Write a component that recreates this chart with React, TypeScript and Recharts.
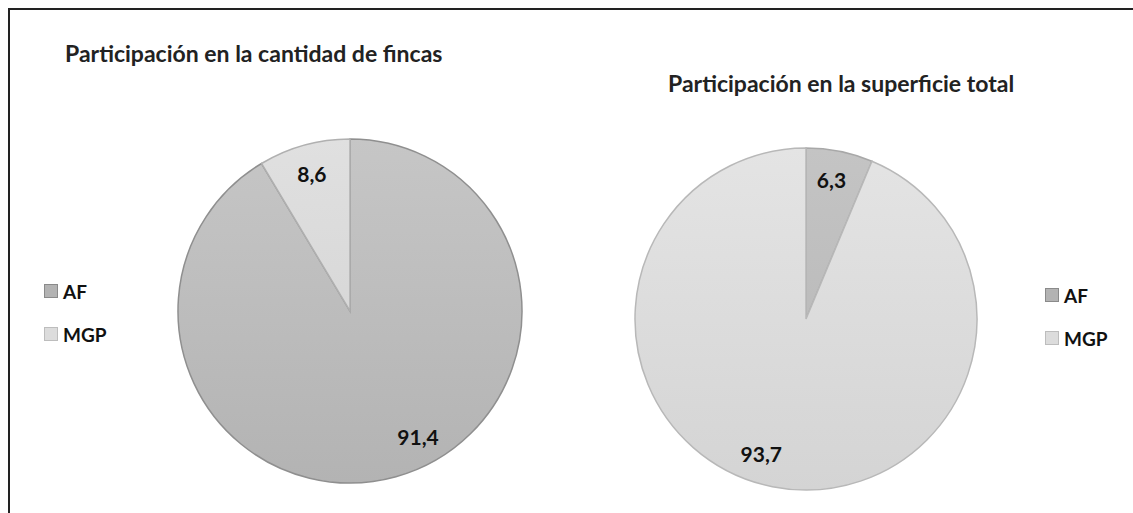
import React from "react";
import { Cell, Legend, Pie, PieChart } from "recharts";

const categories = ["AF", "MGP"];
const fincasValues = [91.4, 8.6];
const superficieValues = [6.3, 93.7];
const titles = [
  "Participación en la cantidad de fincas",
  "Participación en la superficie total",
];

const FONT = "Lato, 'Open Sans', Arial, sans-serif";
const RAD = Math.PI / 180;
const NO_MARGIN = { top: 0, right: 0, bottom: 0, left: 0 };

// fills per chart (Excel greyscale look)
const leftFills = ["url(#gLeftAF)", "url(#gLeftMGP)"];
const rightFills = ["url(#gRightAF)", "url(#gRightMGP)"];
const legendSwatch = [
  { fill: "#b3b3b3", stroke: "#8a8a8a" },
  { fill: "#dcdcdc", stroke: "#bdbdbd" },
];

const fmt = (v: number) => v.toFixed(1).replace(".", ",");

// small angle nudges so labels sit like Excel's best-fit ones
const makeLabel = (shift: number[]) => (props: any) => {
  const { cx, cy, midAngle, outerRadius, index, value } = props;
  const a = (midAngle + shift[index]) * RAD;
  const r = outerRadius * 0.83;
  const x = cx + r * Math.cos(-a);
  const y = cy + r * Math.sin(-a);
  return (
    <text
      x={x}
      y={y}
      textAnchor="middle"
      dominantBaseline="central"
      fontFamily={FONT}
      fontWeight={700}
      fontSize={21}
      fill="#111"
    >
      {fmt(value)}
    </text>
  );
};

const LegendBox = () => (
  <div style={{ fontFamily: FONT, fontWeight: 700, fontSize: 19, color: "#111" }}>
    {categories.map((c, i) => (
      <div
        key={c}
        style={{ display: "flex", alignItems: "center", height: 22, marginBottom: 21 }}
      >
        <span
          style={{
            display: "inline-block",
            width: 12,
            height: 12,
            background: legendSwatch[i].fill,
            border: `1px solid ${legendSwatch[i].stroke}`,
            marginRight: 5,
          }}
        />
        {c}
      </div>
    ))}
  </div>
);

const titleStyle: React.CSSProperties = {
  position: "absolute",
  fontFamily: FONT,
  fontWeight: 700,
  fontSize: 23,
  lineHeight: "28px",
  color: "#222",
  whiteSpace: "nowrap",
};

const App = () => {
  const leftData = categories.map((name, i) => ({ name, value: fincasValues[i] }));
  const rightData = categories.map((name, i) => ({ name, value: superficieValues[i] }));

  return (
    <div
      style={{
        position: "absolute",
        left: 0,
        top: 0,
        width: 1133,
        height: 513,
        background: "#fff",
        overflow: "hidden",
      }}
    >
      <div
        style={{
          position: "absolute",
          left: 8,
          top: 8,
          width: 1140,
          height: 520,
          borderTop: "2px solid #222",
          borderLeft: "2px solid #222",
        }}
      />
      <div style={{ ...titleStyle, left: 65, top: 39 }}>{titles[0]}</div>
      <div style={{ ...titleStyle, left: 668, top: 69 }}>{titles[1]}</div>

      <div style={{ position: "absolute", left: 0, top: 0 }}>
        <PieChart width={566} height={513} margin={NO_MARGIN}>
          <defs>
            <linearGradient id="gLeftAF" x1="0" y1="0" x2="0" y2="1">
              <stop offset="0%" stopColor="#c6c6c6" />
              <stop offset="100%" stopColor="#b3b3b3" />
            </linearGradient>
            <linearGradient id="gLeftMGP" x1="0" y1="0" x2="0" y2="1">
              <stop offset="0%" stopColor="#e0e0e0" />
              <stop offset="100%" stopColor="#d8d8d8" />
            </linearGradient>
          </defs>
          <Pie
            data={leftData}
            dataKey="value"
            nameKey="name"
            cx={350}
            cy={311}
            outerRadius={172}
            startAngle={90}
            endAngle={-270}
            stroke="#8f8f8f"
            strokeWidth={1.5}
            labelLine={false}
            label={makeLabel([13, 0])}
            isAnimationActive={false}
          >
            {leftData.map((d, i) => (
              <Cell
                key={d.name}
                fill={leftFills[i]}
                stroke={i === 0 ? "#8f8f8f" : "#b0b0b0"}
              />
            ))}
          </Pie>
          <Legend
            content={<LegendBox />}
            wrapperStyle={{ position: "absolute", left: 44, top: 280, width: 100 }}
          />
        </PieChart>
      </div>

      <div style={{ position: "absolute", left: 566, top: 0 }}>
        <PieChart width={567} height={513} margin={NO_MARGIN}>
          <defs>
            <linearGradient id="gRightAF" x1="0" y1="0" x2="0" y2="1">
              <stop offset="0%" stopColor="#c4c4c4" />
              <stop offset="100%" stopColor="#bcbcbc" />
            </linearGradient>
            <linearGradient id="gRightMGP" x1="0" y1="0" x2="0" y2="1">
              <stop offset="0%" stopColor="#e4e4e4" />
              <stop offset="100%" stopColor="#d4d4d4" />
            </linearGradient>
          </defs>
          <Pie
            data={rightData}
            dataKey="value"
            nameKey="name"
            cx={240}
            cy={319}
            outerRadius={171}
            startAngle={90}
            endAngle={-270}
            stroke="#b5b5b5"
            strokeWidth={1.5}
            labelLine={false}
            label={makeLabel([1, -7])}
            isAnimationActive={false}
          >
            {rightData.map((d, i) => (
              <Cell
                key={d.name}
                fill={rightFills[i]}
                stroke={i === 0 ? "#a8a8a8" : "#b8b8b8"}
              />
            ))}
          </Pie>
          <Legend
            content={<LegendBox />}
            wrapperStyle={{ position: "absolute", left: 479, top: 284, width: 80 }}
          />
        </PieChart>
      </div>
    </div>
  );
};

export default App;
